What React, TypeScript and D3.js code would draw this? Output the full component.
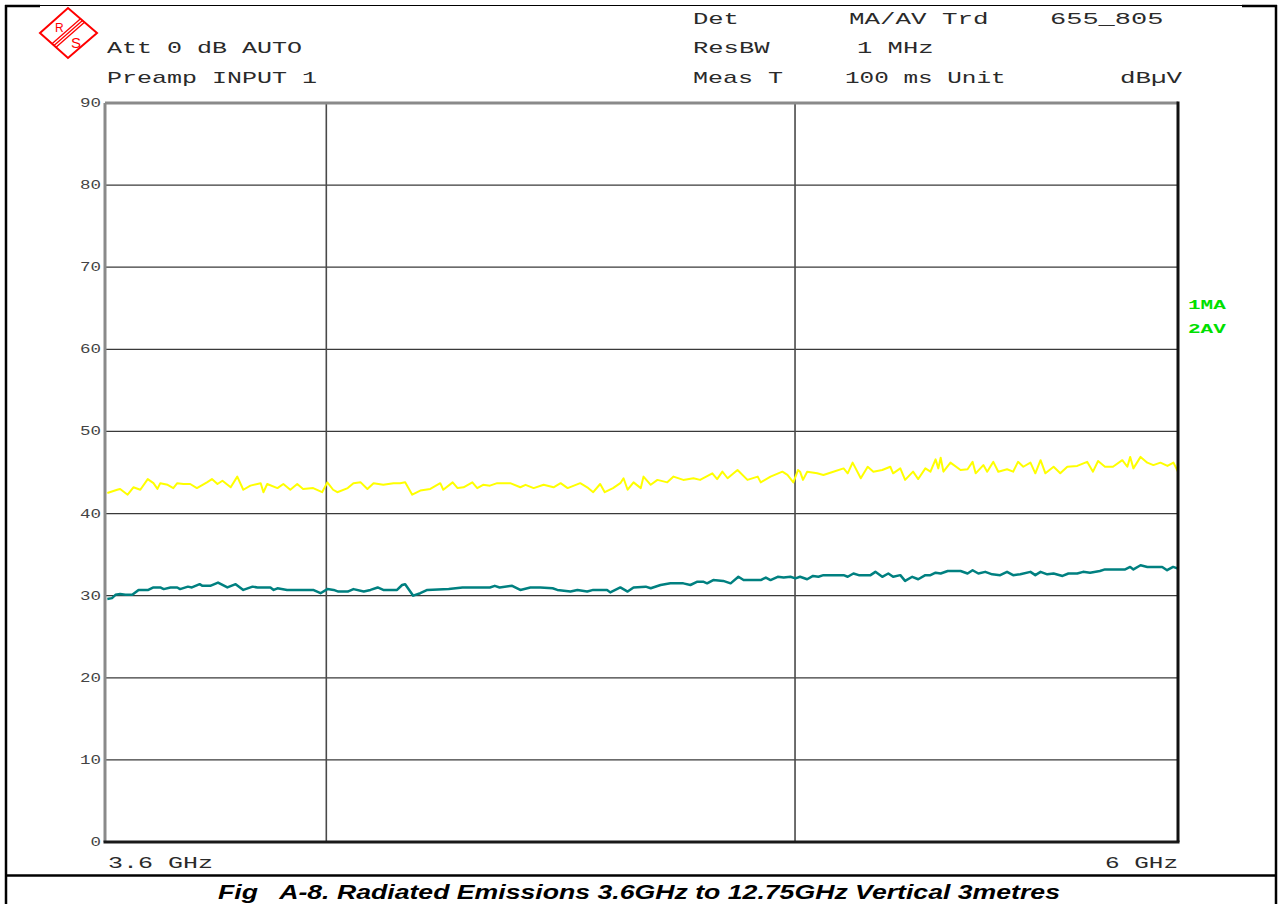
import React from "react";
import * as d3 from "d3";

// ---- Data (frequency in MHz, level in dBµV) ----
const maTrace: [number, number][] = [
  [3604,42.5],[3621,42.9],[3626,43.0],[3639,42.3],[3649,43.2],[3661,42.9],[3674,44.2],[3684,43.7],[3691,43.0],[3696,43.7],
  [3709,43.5],[3719,43.1],[3726,43.7],[3737,43.6],[3749,43.6],[3761,43.1],[3779,43.8],[3788,44.2],[3798,43.6],[3807,44.0],
  [3822,43.2],[3834,44.5],[3845,42.9],[3858,43.4],[3877,43.7],[3882,42.6],[3889,43.6],[3908,43.1],[3919,43.6],[3932,42.9],
  [3945,43.6],[3956,43.0],[3975,43.1],[3992,42.6],[4002,43.8],[4013,42.9],[4021,42.6],[4041,43.1],[4052,43.7],[4066,43.8],
  [4079,43.0],[4091,43.7],[4110,43.5],[4130,43.7],[4143,43.7],[4153,43.8],[4167,42.3],[4183,42.8],[4203,43.0],[4223,43.7],
  [4229,42.9],[4248,43.8],[4258,43.1],[4270,43.2],[4288,43.8],[4298,43.1],[4310,43.5],[4324,43.4],[4339,43.7],[4366,43.7],
  [4387,43.2],[4398,43.5],[4415,43.1],[4436,43.5],[4457,43.2],[4472,43.7],[4487,43.1],[4514,43.7],[4529,43.2],[4542,42.6],
  [4557,43.6],[4567,42.6],[4585,43.1],[4601,43.7],[4608,44.3],[4617,42.9],[4630,43.8],[4646,43.1],[4652,44.5],[4668,43.5],
  [4683,44.1],[4705,43.8],[4719,44.5],[4741,44.1],[4764,44.3],[4779,44.1],[4807,44.9],[4818,44.2],[4830,45.1],[4842,44.3],
  [4865,45.3],[4888,44.1],[4912,44.5],[4919,43.8],[4942,44.5],[4970,45.1],[4982,44.7],[4996,43.8],[5007,45.3],[5012,45.1],
  [5019,44.1],[5029,45.1],[5053,44.9],[5068,44.7],[5092,45.1],[5117,45.5],[5127,44.9],[5139,46.2],[5159,44.3],[5176,45.7],
  [5190,45.1],[5212,45.3],[5232,45.7],[5239,44.9],[5257,45.5],[5269,44.1],[5289,45.1],[5302,44.2],[5320,45.5],[5333,45.1],
  [5346,46.6],[5353,45.5],[5359,46.8],[5366,45.1],[5384,46.2],[5410,45.3],[5428,45.4],[5441,46.3],[5449,44.9],[5469,45.9],
  [5479,45.1],[5495,46.3],[5508,45.1],[5531,45.4],[5547,45.1],[5560,46.3],[5574,45.7],[5593,46.2],[5606,44.9],[5620,46.5],
  [5633,44.9],[5655,45.7],[5673,44.9],[5692,45.7],[5719,45.8],[5746,46.3],[5762,45.1],[5776,46.4],[5795,45.7],[5817,45.7],
  [5843,46.5],[5857,45.7],[5865,46.9],[5874,45.5],[5894,46.9],[5913,46.2],[5930,45.9],[5950,46.2],[5970,45.8],[5987,46.2],
  [6000,45.1],
];

const avTrace: [number, number][] = [
  [3604,29.6],[3612,29.7],[3618,30.1],[3626,30.2],[3635,30.1],[3647,30.1],[3658,30.7],[3675,30.7],[3684,31.0],[3696,31.0],
  [3702,30.8],[3714,31.0],[3726,31.0],[3731,30.8],[3745,31.1],[3752,31.0],[3766,31.4],[3771,31.2],[3785,31.2],[3799,31.6],
  [3816,31.0],[3831,31.4],[3845,30.7],[3862,31.1],[3871,31.0],[3895,31.0],[3901,30.7],[3908,30.9],[3926,30.7],[3950,30.7],
  [3975,30.7],[3989,30.3],[4002,30.8],[4014,30.7],[4023,30.5],[4041,30.5],[4052,30.8],[4072,30.5],[4085,30.7],[4099,31.0],
  [4110,30.7],[4137,30.7],[4147,31.3],[4153,31.4],[4169,30.0],[4183,30.3],[4197,30.7],[4240,30.8],[4268,31.0],[4324,31.0],
  [4334,31.2],[4344,31.0],[4370,31.2],[4387,30.7],[4408,31.0],[4429,31.0],[4455,30.9],[4465,30.7],[4493,30.5],[4508,30.7],
  [4529,30.5],[4542,30.7],[4572,30.7],[4579,30.4],[4601,31.0],[4617,30.5],[4630,31.0],[4657,31.1],[4668,30.9],[4690,31.3],
  [4712,31.5],[4741,31.5],[4757,31.3],[4773,31.7],[4786,31.7],[4795,31.5],[4809,31.9],[4832,31.8],[4849,31.5],[4867,32.3],
  [4879,31.9],[4919,31.9],[4931,32.2],[4942,31.9],[4959,32.3],[4973,32.2],[4989,32.3],[5001,32.1],[5012,32.3],[5029,32.0],
  [5043,32.4],[5056,32.3],[5068,32.5],[5117,32.5],[5127,32.3],[5141,32.7],[5154,32.5],[5183,32.5],[5195,32.9],[5212,32.3],
  [5227,32.7],[5239,32.3],[5257,32.5],[5269,31.8],[5287,32.3],[5302,32.0],[5320,32.5],[5333,32.5],[5346,32.8],[5359,32.7],
  [5377,33.0],[5410,33.0],[5428,32.7],[5441,33.1],[5456,32.7],[5474,32.9],[5492,32.6],[5513,32.5],[5531,32.9],[5547,32.5],
  [5566,32.6],[5593,32.9],[5606,32.5],[5620,32.9],[5638,32.6],[5655,32.7],[5679,32.4],[5695,32.7],[5719,32.7],[5735,32.9],
  [5754,32.8],[5781,33.0],[5795,33.2],[5851,33.2],[5865,33.5],[5874,33.2],[5894,33.7],[5913,33.5],[5955,33.5],[5969,33.1],
  [5986,33.5],[6000,33.3],
];

const yTicks = [0, 10, 20, 30, 40, 50, 60, 70, 80, 90];
const xGridGHz = [4, 5];
const freqStartGHz = 3.6;
const freqStopGHz = 6;
const xLabels = ["3.6 GHz", "6 GHz"];
const legendLabels = ["1MA", "2AV"];
const caption = "Fig   A-8. Radiated Emissions 3.6GHz to 12.75GHz Vertical 3metres";

const W = 1282;
const H = 904;
const L = 105, R = 1178, T = 103, B = 842;
const MONO = "'Liberation Mono', 'DejaVu Sans Mono', monospace";

function Mono(props: { x: number; y: number; text: string; pitch: number; size?: number; anchor?: string; fill?: string; weight?: string }) {
  const { x, y, text, pitch, size = 17, anchor = "start", fill = "#2a2a2a", weight = "normal" } = props;
  return (
    <text
      x={x}
      y={y}
      fontFamily={MONO}
      fontSize={size}
      fontWeight={weight}
      fill={fill}
      textAnchor={anchor}
      textLength={text.length * pitch}
      lengthAdjust="spacingAndGlyphs"
      style={{ whiteSpace: "pre" }}
    >
      {text}
    </text>
  );
}

export default function App() {
  const x = d3.scaleLog().domain([freqStartGHz, freqStopGHz]).range([L, R]);
  const y = d3.scaleLinear().domain([0, 90]).range([B, T]);
  const line = d3
    .line<[number, number]>()
    .x((d) => x(d[0] / 1000))
    .y((d) => y(d[1]));

  return (
    <svg width={W} height={H} style={{ position: "absolute", left: 0, top: 0, background: "#fff" }}>
      <rect x={0} y={0} width={W} height={H} fill="#fff" />
      <defs>
        <clipPath id="plotclip">
          <rect x={L} y={T} width={R - L} height={B - T} />
        </clipPath>
      </defs>

      {/* outer frame */}
      <line x1={6} y1={5.5} x2={1276} y2={5.5} stroke="#000" strokeWidth={1.2} />
      <line x1={5} y1={6} x2={40} y2={6} stroke="#000" strokeWidth={2.5} />
      <line x1={1242} y1={6} x2={1277} y2={6} stroke="#000" strokeWidth={2.5} />
      <line x1={6} y1={5} x2={6} y2={H} stroke="#000" strokeWidth={2.5} />
      <line x1={1276} y1={5} x2={1276} y2={H} stroke="#000" strokeWidth={2.5} />
      <line x1={5} y1={875.5} x2={1277} y2={875.5} stroke="#000" strokeWidth={2.5} />

      {/* logo */}
      <g>
        <polygon points="40,33 68,8 97,33 68,58" fill="none" stroke="#ff0000" strokeWidth={2} />
        {[-2.6, 0, 2.6].map((o, i) => (
          <line key={i} x1={82.5 + o * 0.66} y1={20.5 + o * 0.75} x2={54 + o * 0.66} y2={45.5 + o * 0.75} stroke="#ff0000" strokeWidth={1.3} />
        ))}
        <text x={55} y={32} fontFamily="'Liberation Sans', Arial, sans-serif" fontSize={12} fill="#ff0000">R</text>
        <text x={71} y={48} fontFamily="'Liberation Sans', Arial, sans-serif" fontSize={15} fill="#ff0000">S</text>
      </g>

      {/* header text */}
      <Mono x={107} y={53} text="Att 0 dB AUTO" pitch={15} />
      <Mono x={107} y={83} text="Preamp INPUT 1" pitch={15} />
      <Mono x={693} y={24} text="Det" pitch={15.3} />
      <Mono x={849} y={24} text="MA/AV Trd" pitch={15.5} />
      <Mono x={1050} y={24} text="655_805" pitch={16.2} />
      <Mono x={693} y={53} text="ResBW" pitch={15.3} />
      <Mono x={857} y={53} text="1 MHz" pitch={15.3} />
      <Mono x={693} y={83} text="Meas T" pitch={15} />
      <Mono x={845} y={83} text="100 ms Unit" pitch={14.6} />
      <Mono x={1182} y={83} text="dBµV" pitch={15.5} anchor="end" />

      {/* grid */}
      {yTicks.filter((v) => v !== 0 && v !== 90).map((v) => (
        <line key={v} x1={L} x2={R} y1={y(v)} y2={y(v)} stroke="#3a3a3a" strokeWidth={1.2} />
      ))}
      {xGridGHz.map((f) => (
        <line key={f} x1={x(f)} x2={x(f)} y1={T} y2={B} stroke="#4a4a4a" strokeWidth={1.6} />
      ))}

      {/* y tick labels */}
      {yTicks.map((v) => (
        <Mono key={v} x={101} y={y(v) + 4} text={String(v)} pitch={10.5} size={13} anchor="end" fill="#444" />
      ))}

      {/* traces */}
      <g clipPath="url(#plotclip)">
        <path d={line(maTrace) || ""} fill="none" stroke="#ffff00" strokeWidth={2} strokeLinejoin="round" />
        <path d={line(avTrace) || ""} fill="none" stroke="#008080" strokeWidth={2.5} strokeLinejoin="round" />
      </g>

      {/* plot border */}
      <line x1={L} x2={R} y1={T} y2={T} stroke="#8a8a8a" strokeWidth={3} />
      <line x1={L} x2={L} y1={T} y2={B} stroke="#8a8a8a" strokeWidth={3} />
      <line x1={L - 1.5} x2={R + 1.5} y1={B} y2={B} stroke="#1a1a1a" strokeWidth={3} />
      <line x1={R} x2={R} y1={T - 1.5} y2={B} stroke="#111" strokeWidth={3} />

      {/* legend */}
      {legendLabels.map((t, i) => (
        <Mono key={t} x={1188} y={309 + i * 24} text={t} pitch={12.6} size={13} weight="bold" fill="#00e000" />
      ))}

      {/* x labels */}
      <Mono x={108} y={868} text={xLabels[0]} pitch={15} />
      <Mono x={1178} y={868} text={xLabels[1]} pitch={14.6} anchor="end" />

      {/* caption */}
      <text
        x={639}
        y={899}
        textAnchor="middle"
        fontFamily="'Liberation Sans', Arial, sans-serif"
        fontSize={21}
        fontWeight="bold"
        fontStyle="italic"
        fill="#000"
        textLength={842}
        lengthAdjust="spacingAndGlyphs"
        style={{ whiteSpace: "pre" }}
      >
        {caption}
      </text>
    </svg>
  );
}
